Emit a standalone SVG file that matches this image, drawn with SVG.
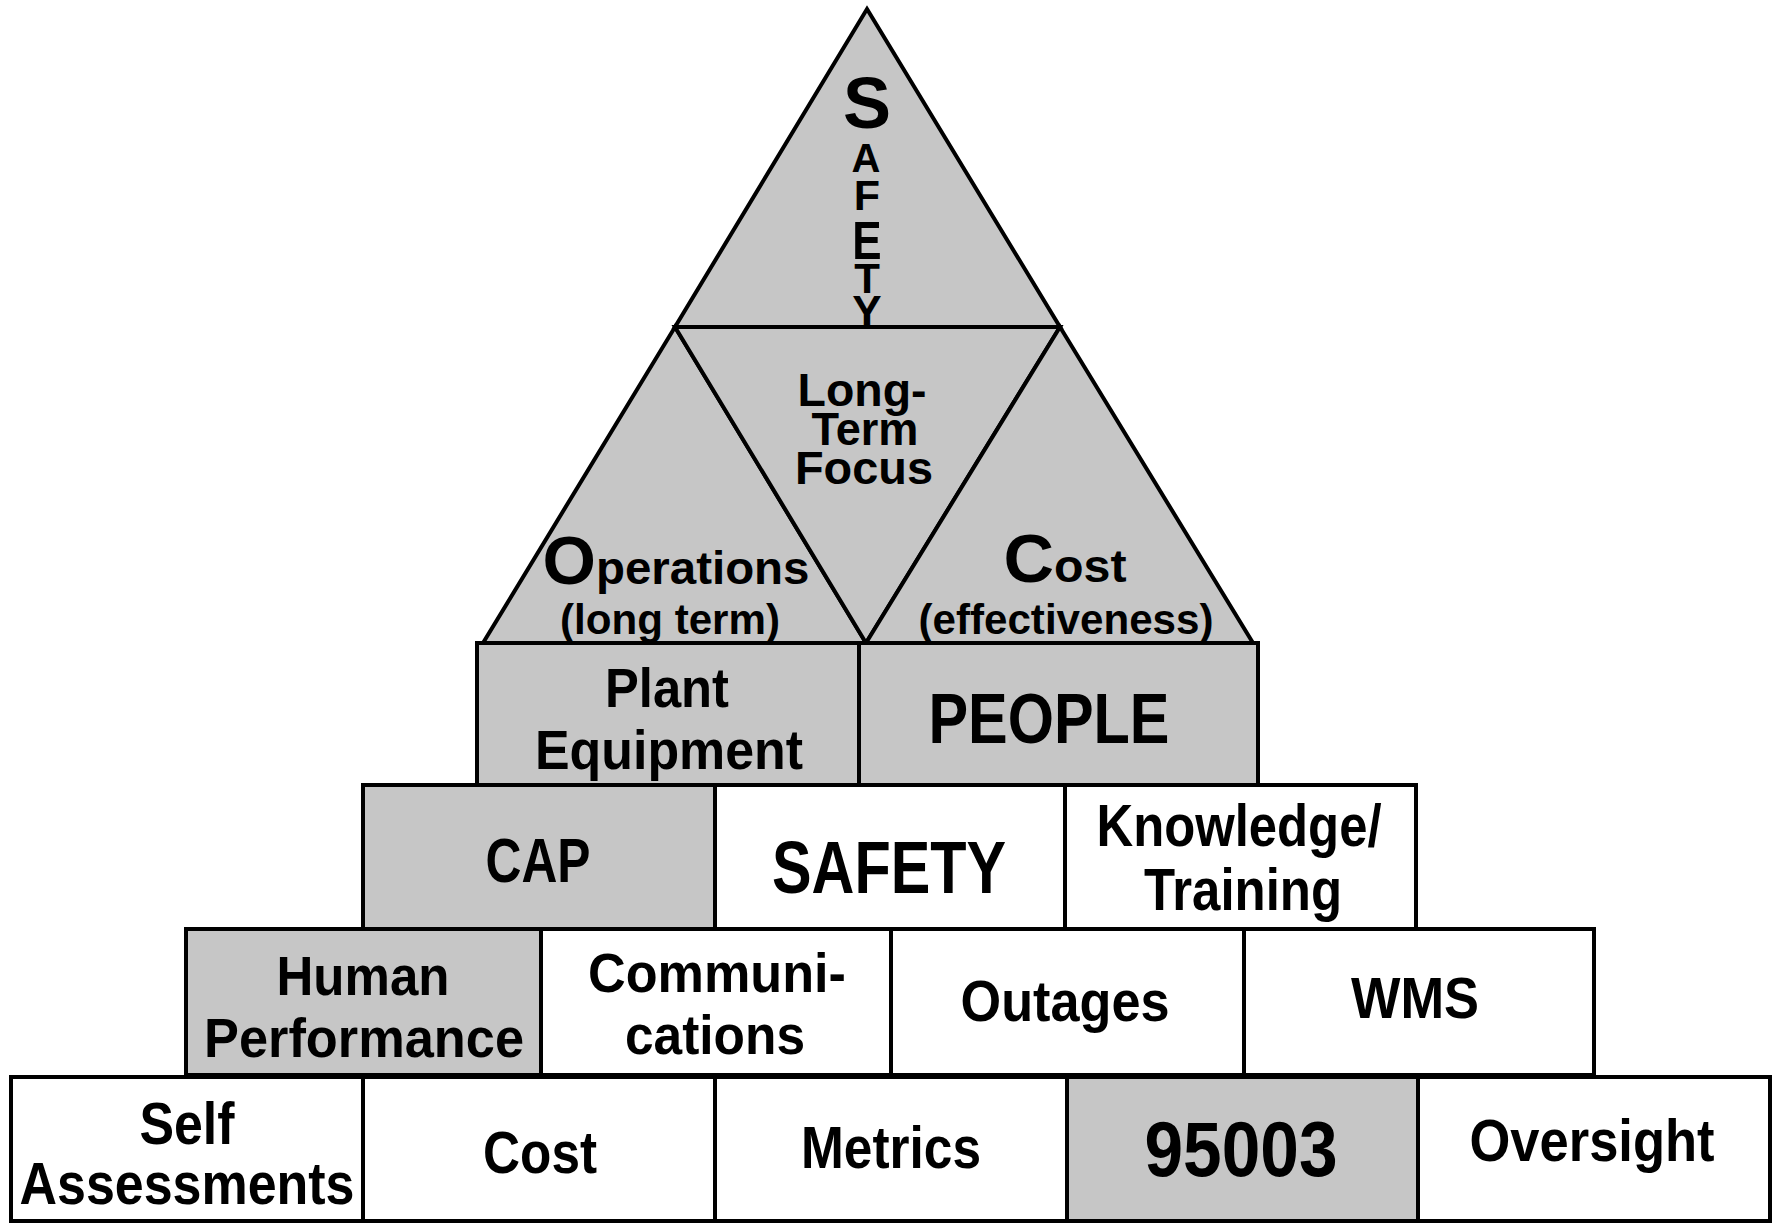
<svg xmlns="http://www.w3.org/2000/svg" width="1773" height="1226" viewBox="0 0 1773 1226">
<style>
.g{fill:#c6c6c6;stroke:#000;stroke-width:4;stroke-linejoin:miter}
.w{fill:#fff;stroke:#000;stroke-width:4}
.t{font-family:"Liberation Sans Narrow","Arial Narrow","Liberation Sans",Arial,sans-serif;font-weight:bold;fill:#000;text-anchor:middle}
.r{font-family:"Liberation Sans",Arial,sans-serif;font-weight:bold;fill:#000;text-anchor:middle}
</style>
<rect width="1773" height="1226" fill="#fff"/>
<g id="triangles">
<g id="tri-top"><path class="g" d="M867,9 L1060,327 L675,327 Z"/>
<text class="r" x="867" y="128" font-size="72">S</text>
<text class="r" x="866" y="172" font-size="40">A</text>
<text class="r" x="867" y="210" font-size="43">F</text>
<text class="r" transform="translate(867,259) scale(1,1.2)" x="0" y="0" font-size="44">E</text>
<text class="r" x="867" y="293" font-size="42">T</text>
<text class="r" x="867" y="327" font-size="44">Y</text>
</g>
<g id="tri-left"><path class="g" d="M675,327 L866,643 L483,643 Z"/>
<text class="r" x="676" y="584" font-size="47" textLength="267" lengthAdjust="spacingAndGlyphs"><tspan font-size="68">O</tspan>perations</text>
<text class="r" x="670" y="634" font-size="43" textLength="220" lengthAdjust="spacingAndGlyphs">(long term)</text>
</g>
<g id="tri-mid"><path class="g" d="M675,327 L1060,327 L866,643 Z"/>
<text class="r" x="862" y="406" font-size="46" textLength="129" lengthAdjust="spacingAndGlyphs">Long-</text>
<text class="r" x="865" y="445" font-size="46" textLength="107" lengthAdjust="spacingAndGlyphs">Term</text>
<text class="r" x="864" y="484" font-size="46" textLength="138" lengthAdjust="spacingAndGlyphs">Focus</text>
</g>
<g id="tri-right"><path class="g" d="M1060,327 L1253,643 L866,643 Z"/>
<text class="r" x="1065" y="582" font-size="47" textLength="123" lengthAdjust="spacingAndGlyphs"><tspan font-size="68">C</tspan>ost</text>
<text class="r" x="1066" y="634" font-size="43" textLength="295" lengthAdjust="spacingAndGlyphs">(effectiveness)</text>
</g>
</g>
<g id="row1">
<g id="plant"><rect class="g" x="477" y="643" width="382" height="142"/>
<text class="t" x="667" y="707" font-size="56" textLength="124" lengthAdjust="spacingAndGlyphs">Plant</text>
<text class="t" x="669" y="769" font-size="56" textLength="268" lengthAdjust="spacingAndGlyphs">Equipment</text></g>
<g id="people"><rect class="g" x="859" y="643" width="399" height="142"/>
<text class="t" x="1049" y="743" font-size="71" textLength="241" lengthAdjust="spacingAndGlyphs">PEOPLE</text></g>
</g>
<g id="row2">
<g id="cap"><rect class="g" x="363" y="785" width="352" height="144"/>
<text class="t" x="538" y="882" font-size="63" textLength="105" lengthAdjust="spacingAndGlyphs">CAP</text></g>
<g id="safety"><rect class="w" x="715" y="785" width="350" height="144"/>
<text class="t" x="889" y="893" font-size="75" textLength="234" lengthAdjust="spacingAndGlyphs">SAFETY</text></g>
<g id="knowledge"><rect class="w" x="1065" y="785" width="351" height="144"/>
<text class="t" x="1239" y="846" font-size="60" textLength="285" lengthAdjust="spacingAndGlyphs">Knowledge/</text>
<text class="t" x="1243" y="910" font-size="60" textLength="198" lengthAdjust="spacingAndGlyphs">Training</text></g>
</g>
<g id="row3">
<g id="human"><rect class="g" x="186" y="929" width="355" height="146"/>
<text class="t" x="363" y="995" font-size="56" textLength="173" lengthAdjust="spacingAndGlyphs">Human</text>
<text class="t" x="364" y="1057" font-size="56" textLength="320" lengthAdjust="spacingAndGlyphs">Performance</text></g>
<g id="communications"><rect class="w" x="541" y="929" width="350" height="146"/>
<text class="t" x="717" y="992" font-size="56" textLength="258" lengthAdjust="spacingAndGlyphs">Communi-</text>
<text class="t" x="715" y="1054" font-size="56" textLength="180" lengthAdjust="spacingAndGlyphs">cations</text></g>
<g id="outages"><rect class="w" x="891" y="929" width="353" height="146"/>
<text class="t" x="1065" y="1021" font-size="58" textLength="209" lengthAdjust="spacingAndGlyphs">Outages</text></g>
<g id="wms"><rect class="w" x="1244" y="929" width="350" height="146"/>
<text class="t" x="1415" y="1018" font-size="58" textLength="128" lengthAdjust="spacingAndGlyphs">WMS</text></g>
</g>
<g id="row4">
<g id="self"><rect class="w" x="11" y="1077" width="352" height="144"/>
<text class="t" x="187" y="1144" font-size="60" textLength="95" lengthAdjust="spacingAndGlyphs">Self</text>
<text class="t" x="187" y="1204" font-size="60" textLength="335" lengthAdjust="spacingAndGlyphs">Assessments</text></g>
<g id="cost"><rect class="w" x="363" y="1077" width="352" height="144"/>
<text class="t" x="540" y="1173" font-size="60" textLength="114" lengthAdjust="spacingAndGlyphs">Cost</text></g>
<g id="metrics"><rect class="w" x="715" y="1077" width="352" height="144"/>
<text class="t" x="891" y="1168" font-size="60" textLength="180" lengthAdjust="spacingAndGlyphs">Metrics</text></g>
<g id="n95003"><rect class="g" x="1067" y="1077" width="351" height="144"/>
<text class="t" x="1241" y="1176" font-size="78" textLength="193" lengthAdjust="spacingAndGlyphs">95003</text></g>
<g id="oversight"><rect class="w" x="1418" y="1077" width="352" height="144"/>
<text class="t" x="1592" y="1161" font-size="60" textLength="245" lengthAdjust="spacingAndGlyphs">Oversight</text></g>
</g>
<g id="connectors"/>
</svg>
